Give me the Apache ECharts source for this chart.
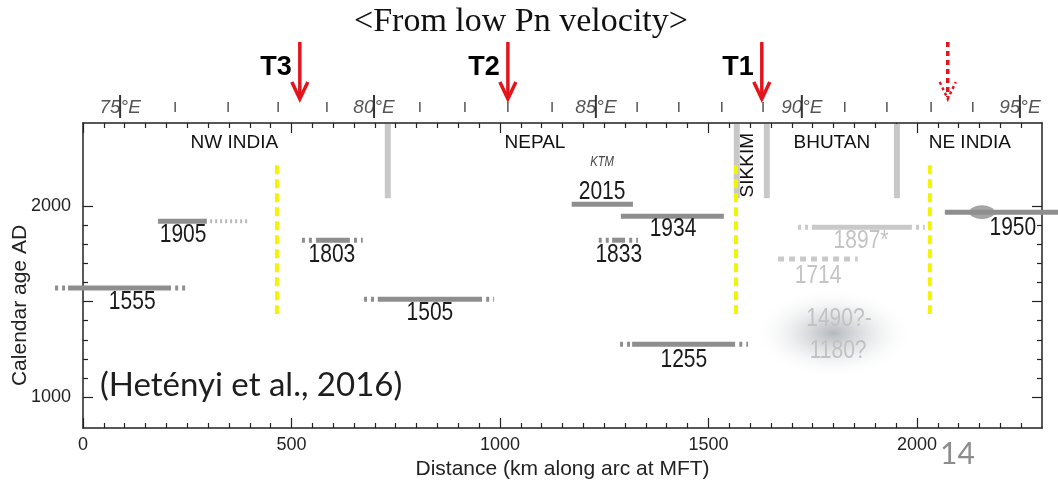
<!DOCTYPE html>
<html>
<head>
<meta charset="utf-8">
<script src="https://cdn.jsdelivr.net/npm/echarts@6/dist/echarts.min.js"></script>
<style>
  html, body { margin: 0; padding: 0; background: #fff; }
  #chart { width: 1058px; height: 482px; }
</style>
</head>
<body>
<div id="chart"></div>
<script>
// earthquake ruptures along the Himalayan arc (km along MFT) vs calendar age AD
const quakeNames = ['1555', '1905', '1803', '1505', '2015', '1934', '1833', '1950', '1897*', '1714', '1255'];
const quakeYear = [1571, 1921, 1822, 1513, 2010, 1948, 1822, 1969, 1890, 1723, 1277];
const solidFrom = [-36, 180, 559, 707, 1172, 1290, 1269, 2067, 1748, null, 1317];
const solidTo = [211, 297, 640, 957, 1319, 1537, 1300, 2345, 1988, null, 1564];
const dotFrom = [-67, null, 525, 674, null, null, 1237, null, 1715, 1667, 1288];
const dotTo = [245, 396, 671, 986, null, null, 1331, null, 2019, 1858, 1595];
const quakeFaint = [false, false, false, false, false, false, false, false, true, true, false];
const labelKm = [118, 240, 597, 832, 1245, 1415, 1285, 2230, 1866, 1763, 1441];
const labelYear = [1500, 1850, 1746, 1442, 2073, 1878, 1746, 1883, 1815, 1632, 1196];

const ellipseKm = 2156;
const ellipseYear = 1969;
const blobKm = 1799;
const blobYear = 1335;
const blobText = ['1490?-', '1180?'];
const blobTextKm = [1813, 1811];
const blobTextYear = [1408, 1241];

const regionNames = ['NW INDIA', 'NEPAL', 'SIKKIM', 'BHUTAN', 'NE INDIA'];
const regionKm = [363, 1084, 1595, 1796, 2127];
const regionYear = [2330, 2330, 2215, 2330, 2330];

const borderKm = [731, 1568, 1640, 1952];
const borderYear = 2042;
const segmentKm = [465, 1566, 2031];
const segmentTop = 2215;
const segmentBottom = 1435;

const arrowKm = [520, 1019, 1628, 2074];
const arrowNames = ['T3', 'T2', 'T1', ''];
const arrowDashed = [false, false, false, true];

const lonKm = [89, 221, 348, 468, 585, 698, 808, 916, 1019, 1125, 1230, 1329, 1429, 1532, 1631, 1724, 1827, 1928, 2034, 2134, 2247];
const lonLabels = ['75°E', '', '', '', '', '80°E', '', '', '', '', '85°E', '', '', '', '', '90°E', '', '', '', '', '95°E'];

const kmMajor = [0, 500, 1000, 1500, 2000];
const kmMinor = [];
for (let v = 50; v < 2300; v += 50) if (v % 500) kmMinor.push(v);
const yearMajor = [1000, 1500, 2000];
const yearLabels = [1000, 2000];
const yearMinor = [1100, 1200, 1300, 1400, 1600, 1700, 1800, 1900];

const X_MIN = 0, X_MAX = 2300, Y_MIN = 838, Y_MAX = 2436;
const sans = "'Liberation Sans', Arial, sans-serif";
const frame = '#222';

const chart = echarts.init(document.getElementById('chart'));

function xAxisOf(position, ticks, len, main) {
  return {
    type: 'value', position, min: X_MIN, max: X_MAX,
    axisLine: { show: main, onZero: false, lineStyle: { color: frame, width: 1.5 } },
    axisTick: { inside: true, length: len, customValues: ticks, lineStyle: { color: frame, width: 1.2 } },
    axisLabel: { show: false },
    splitLine: { show: false }
  };
}
function yAxisOf(position, ticks, len, main) {
  return {
    type: 'value', position, min: Y_MIN, max: Y_MAX,
    axisLine: { show: main, onZero: false, lineStyle: { color: frame, width: 1.5 } },
    axisTick: { inside: true, length: len, customValues: ticks, lineStyle: { color: frame, width: 1.2 } },
    axisLabel: { show: false },
    splitLine: { show: false }
  };
}

const xBottom = xAxisOf('bottom', kmMajor, 10, true);
xBottom.axisLabel = { show: true, customValues: kmMajor, margin: 8, color: '#222', fontSize: 18, fontFamily: sans, formatter: v => String(v) };
xBottom.name = 'Distance (km along arc at MFT)';
xBottom.nameLocation = 'middle';
xBottom.nameGap = 31;
xBottom.nameMoveOverlap = false;
xBottom.nameTextStyle = { fontSize: 21, color: '#222', fontFamily: sans };

const yLeft = yAxisOf('left', yearMajor, 10, true);
yLeft.axisLabel = { show: true, customValues: yearLabels, margin: 12, color: '#222', fontSize: 18, fontFamily: sans, formatter: v => String(v) };
yLeft.name = 'Calendar age AD';
yLeft.nameLocation = 'middle';
yLeft.nameRotate = 90;
yLeft.nameGap = 52;
yLeft.nameMoveOverlap = false;
yLeft.nameTextStyle = { fontSize: 21, color: '#222', fontFamily: sans, padding: [0, 60, 0, 0] };

// condensed year text (Arial Narrow look)
function yearText(x, y, text, fill) {
  return {
    type: 'text', x, y, scaleX: 0.84,
    style: { text, fill, font: '25px ' + sans, align: 'center', verticalAlign: 'middle' }
  };
}

function renderQuake(params, api) {
  const i = params.dataIndex;
  const y = api.coord([0, quakeYear[i]])[1];
  const px = v => api.coord([v, quakeYear[i]])[0];
  const faint = quakeFaint[i];
  const color = faint ? '#c9c9c9' : '#8e8e8e';
  const kids = [];
  const seg = (a, b, dash, stroke, w) => kids.push({
    type: 'line',
    shape: { x1: px(a), y1: y, x2: px(b), y2: y },
    style: { stroke: stroke || color, lineWidth: w || 5, lineDash: dash || null }
  });
  if (solidFrom[i] == null) {
    seg(dotFrom[i], dotTo[i], [6, 5]);
  } else {
    if (dotFrom[i] != null) seg(dotFrom[i], solidFrom[i], [3, 4]);
    seg(solidFrom[i], solidTo[i]);
    if (dotTo[i] != null) {
      if (dotFrom[i] == null) seg(solidTo[i] + 8, dotTo[i], [2, 3], '#b8b8b8', 4);
      else seg(solidTo[i] + 10, dotTo[i], [3, 4]);
    }
  }
  const p = api.coord([labelKm[i], labelYear[i]]);
  kids.push(yearText(p[0], p[1], quakeNames[i], faint ? '#c4c4c4' : '#1a1a1a'));
  return { type: 'group', children: kids };
}

chart.setOption({
  animation: false,
  backgroundColor: '#fff',
  title: [
    { text: '<From low Pn velocity>', left: 521, top: 5, textAlign: 'center', padding: 0,
      textStyle: { fontFamily: "'Liberation Serif', serif", fontSize: 34, fontWeight: 'normal', color: '#111' } },
    { text: '(Hetényi et al., 2016)', left: 100, top: 369, padding: 0,
      textStyle: { fontFamily: "Lato, 'Open Sans', sans-serif", fontSize: 33, fontWeight: 'normal', color: '#1e1e1e' } },
    { text: '14', left: 940, top: 439, padding: 0,
      textStyle: { fontFamily: "Lato, 'Open Sans', sans-serif", fontSize: 30, fontWeight: 'normal', color: '#8c8c8c' } }
  ],
  grid: { left: 83, right: 16, top: 123, bottom: 54, outerBoundsMode: 'none' },
  xAxis: [xBottom, xAxisOf('bottom', kmMinor, 5, false), xAxisOf('top', kmMajor, 10, true), xAxisOf('top', kmMinor, 5, false)],
  yAxis: [yLeft, yAxisOf('left', yearMinor, 5, false), yAxisOf('right', yearMajor, 10, true), yAxisOf('right', yearMinor, 5, false)],
  series: [
    {
      // political boundaries
      type: 'custom', clip: false, z: 1,
      data: borderKm.map(k => [k, borderYear]),
      renderItem: (params, api) => {
        const a = api.coord([borderKm[params.dataIndex], Y_MAX]);
        const b = api.coord([borderKm[params.dataIndex], borderYear]);
        return { type: 'line', shape: { x1: a[0], y1: a[1] + 1, x2: b[0], y2: b[1] }, style: { stroke: '#c8c8c8', lineWidth: 6 } };
      }
    },
    {
      // segment boundaries
      type: 'custom', clip: false, z: 2,
      data: segmentKm.map(k => [k, segmentTop]),
      renderItem: (params, api) => {
        const a = api.coord([segmentKm[params.dataIndex], segmentTop]);
        const b = api.coord([segmentKm[params.dataIndex], segmentBottom]);
        return { type: 'line', shape: { x1: a[0], y1: a[1], x2: b[0], y2: b[1] }, style: { stroke: '#f4f400', lineWidth: 4, lineDash: [9, 5] } };
      }
    },
    {
      type: 'scatter', z: 1, silent: true,
      data: [[blobKm, blobYear]],
      symbol: 'circle', symbolSize: [160, 90],
      itemStyle: {
        color: new echarts.graphic.RadialGradient(0.5, 0.5, 0.5, [
          { offset: 0, color: 'rgba(145,150,158,0.85)' },
          { offset: 0.45, color: 'rgba(192,196,200,0.5)' },
          { offset: 1, color: 'rgba(255,255,255,0)' }
        ])
      }
    },
    {
      type: 'custom', clip: false, z: 2,
      data: blobTextKm.map((k, i) => [k, blobTextYear[i]]),
      renderItem: (params, api) => {
        const i = params.dataIndex;
        const p = api.coord([blobTextKm[i], blobTextYear[i]]);
        return yearText(p[0], p[1], blobText[i], '#c2c2c2');
      }
    },
    {
      type: 'custom', clip: false, z: 3,
      data: quakeYear.map((y, i) => [labelKm[i], y]),
      renderItem: renderQuake
    },
    {
      type: 'scatter', z: 4, silent: true,
      data: [[ellipseKm, ellipseYear]],
      symbol: 'circle', symbolSize: [25, 14],
      itemStyle: { color: '#8e8e8e' }
    },
    {
      // region names
      type: 'custom', clip: false, z: 4,
      data: regionKm.map((k, i) => [k, regionYear[i]]),
      renderItem: (params, api) => {
        const i = params.dataIndex;
        const p = api.coord([regionKm[i], regionYear[i]]);
        return {
          type: 'text', x: p[0], y: p[1], rotation: regionNames[i] === 'SIKKIM' ? Math.PI / 2 : 0,
          style: { text: regionNames[i], fill: '#111', font: '19px ' + sans, align: 'center', verticalAlign: 'middle' }
        };
      }
    },
    {
      type: 'custom', clip: false, z: 4,
      data: [[1245, 2230]],
      renderItem: (params, api) => {
        const p = api.coord([api.value(0), api.value(1)]);
        return { type: 'text', x: p[0], y: p[1], scaleX: 0.75, style: { text: 'KTM', fill: '#444', font: 'italic 15px ' + sans, align: 'center', verticalAlign: 'middle' } };
      }
    },
    {
      // longitude scale above the frame
      type: 'custom', clip: false, z: 5,
      data: lonKm.map(k => [k, Y_MAX]),
      renderItem: (params, api) => {
        const i = params.dataIndex;
        const p = api.coord([lonKm[i], Y_MAX]);
        const x = p[0], top = p[1];
        if (!lonLabels[i]) {
          return { type: 'line', shape: { x1: x, y1: top - 21, x2: x, y2: top - 11 }, style: { stroke: '#555', lineWidth: 1.5 } };
        }
        return {
          type: 'group', children: [
            { type: 'text', x: x, y: top - 15, style: { text: lonLabels[i], fill: '#555', font: 'italic 19px ' + sans, align: 'center', verticalAlign: 'middle' } },
            { type: 'line', shape: { x1: x, y1: top - 28, x2: x, y2: top - 5 }, style: { stroke: '#333', lineWidth: 2 } }
          ]
        };
      }
    },
    {
      // tear locations from low Pn velocity
      type: 'custom', clip: false, z: 5,
      data: arrowKm.map(k => [k, Y_MAX]),
      renderItem: (params, api) => {
        const i = params.dataIndex;
        const p = api.coord([arrowKm[i], Y_MAX]);
        const x = p[0], top = p[1];
        const dash = arrowDashed[i] ? [5, 4] : null;
        const red = '#e3141b';
        const kids = [
          { type: 'line', shape: { x1: x, y1: top - 81, x2: x, y2: top - 26 }, style: { stroke: red, lineWidth: 3.5, lineDash: dash } },
          { type: 'polyline', shape: { points: [[x - 8, top - 41], [x, top - 24], [x + 8, top - 41]] }, style: { stroke: red, lineWidth: dash ? 2.5 : 3.5, fill: null, lineDash: dash ? [3, 3] : null } }
        ];
        if (arrowNames[i]) {
          kids.push({ type: 'text', x: x - 8, y: top - 55, style: { text: arrowNames[i], fill: '#000', font: 'bold 27px ' + sans, align: 'right', verticalAlign: 'middle' } });
        }
        return { type: 'group', children: kids };
      }
    }
  ]
});
</script>
</body>
</html>
